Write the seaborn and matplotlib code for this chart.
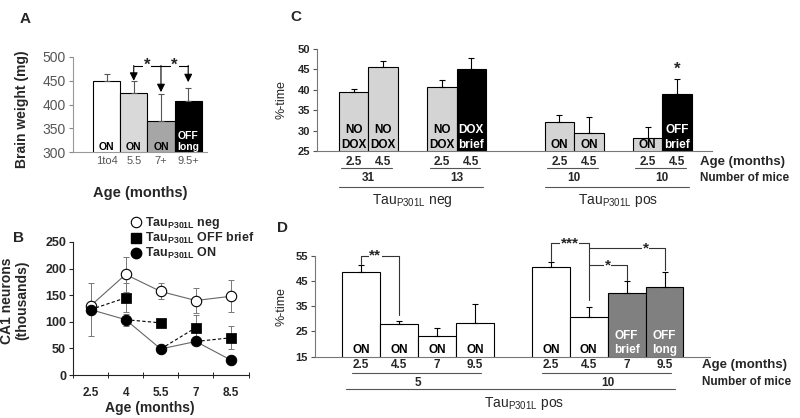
import numpy as np
import matplotlib
matplotlib.use('Agg')
import matplotlib.pyplot as plt
import matplotlib.transforms as mtransforms
from matplotlib.lines import Line2D
import seaborn as sns

sns.set_style('white')
plt.rcParams['font.family'] = ['Liberation Sans', 'DejaVu Sans']
plt.rcParams['mathtext.fontset'] = 'custom'
plt.rcParams['mathtext.rm'] = 'Liberation Sans'
plt.rcParams['mathtext.bf'] = 'Liberation Sans:bold'

# ---- data ----
# A: brain weight
a_groups = ['1to4', '5.5', '7+', '9.5+']
a_weight = [450, 425, 365, 407]
a_err = [14, 24, 57, 27]
a_text = ['ON', 'ON', 'ON', 'OFF\nlong']
a_arrow_tip = [450, 426, 447]

# B: CA1 neurons
b_age = ['2.5', '4', '5.5', '7', '8.5']
b_neg = [130, 189, 157, 140, 148]
b_neg_err = [8, 33, 15, 24, 30]
b_on = [123, 104, 49, 63, 28]
b_on_err = [49, 11, 3, 4, 3]
b_off = [np.nan, 145, 98, 89, 70]
b_off_err = [np.nan, 27, 4, 24, 22]

# C: %-time, short dox
c_age = ['2.5', '4.5', '2.5', '4.5', '2.5', '4.5', '2.5', '4.5']
c_time = [39.5, 45.7, 40.7, 45.2, 32.1, 29.3, 28.3, 38.9]
c_err = [0.8, 1.3, 1.6, 2.5, 1.7, 4.1, 2.5, 3.7]
c_text = ['NO\nDOX', 'NO\nDOX', 'NO\nDOX', 'DOX\nbrief', 'ON', 'ON', 'ON', 'OFF\nbrief']
c_mice = ['31', '13', '10', '10']
c_geno = ['neg', 'pos']

# D: %-time, long dox
d_age = ['2.5', '4.5', '7', '9.5', '2.5', '4.5', '7', '9.5']
d_time = [48.7, 28.0, 23.3, 28.4, 50.4, 30.8, 40.3, 42.5]
d_err = [2.6, 1.3, 2.9, 7.6, 2.2, 3.8, 4.7, 6.2]
d_text = ['ON', 'ON', 'ON', 'ON', 'ON', 'ON', 'OFF\nbrief', 'OFF\nlong']
d_mice = ['5', '10']

# ---- layout ----
W, H = 800, 418
fig = plt.figure(figsize=(8, 4.18), dpi=100)


def rect(l, t, r, b):
    return [l / W, 1 - b / H, (r - l) / W, (b - t) / H]


def fy(px):
    return 1 - px / H


def style_axes(ax, color):
    for s in ['top', 'right']:
        ax.spines[s].set_visible(False)
    for s in ['left', 'bottom']:
        ax.spines[s].set_color(color)
        ax.spines[s].set_linewidth(0.8)


def bar_text(ax, x, y, txt, size, ls=1.3):
    col = 'white' if txt in ('OFF\nlong', 'OFF\nbrief', 'DOX\nbrief') else 'black'
    ax.text(x, y, txt, ha='center', va='bottom', fontsize=size, fontweight='bold',
            color=col, linespacing=ls)


tau = r'Tau$_{\mathrm{P301L}}$ '
taub = r'Tau$_{\mathbf{P301L}}$ '

# ===== A =====
axA = fig.add_axes(rect(73, 57, 207, 152))
sns.barplot(x=a_groups, y=a_weight, width=1, color='white', edgecolor='black',
            linewidth=0.8, errorbar=None, ax=axA)
for p, c in zip(axA.patches, ['white', '#d9d9d9', '#a6a6a6', 'black']):
    p.set_facecolor(c)
ia = np.arange(len(a_groups))
axA.errorbar(ia, a_weight, yerr=[np.zeros(4), a_err], fmt='none', ecolor='#555555',
             elinewidth=0.8, capsize=2.5, capthick=0.8)
axA.set_ylim(300, 500)
axA.set_xlim(-1.23, 3.69)
axA.set_yticks([300, 350, 400, 450, 500])
axA.tick_params(axis='y', labelsize=10, labelcolor='#555555', length=3, color='#888888',
                left=True, pad=2)
axA.tick_params(axis='x', labelsize=8, labelcolor='#555555', length=0, pad=3)
style_axes(axA, '#999999')
for i, t in enumerate(a_text):
    bar_text(axA, i, 301, t, 7.5, 1.1)
axA.set_ylabel('Brain weight (mg)', fontsize=10, fontweight='bold')
axA.yaxis.set_label_coords(-0.33, 0.45)
axA.set_xlabel('Age (months)', fontsize=10.5, fontweight='bold')
axA.xaxis.set_label_coords(0.5, -0.36)
ytop = 482
axA.plot([1, 3], [ytop, ytop], color='black', lw=0.8, clip_on=False)
for i, tip in zip([1, 2, 3], a_arrow_tip):
    axA.annotate('', xy=(i, tip), xytext=(i, ytop),
                 arrowprops=dict(arrowstyle='-|>', color='black', lw=0.8,
                                 mutation_scale=12, shrinkA=0, shrinkB=0))
for xs in [1.48, 2.5]:
    axA.text(xs, ytop, '*', ha='center', va='center', fontsize=12, fontweight='bold',
             bbox=dict(facecolor='white', edgecolor='none', pad=0.5))
fig.text(20 / W, fy(23), 'A', fontsize=11, fontweight='bold')

# ===== B =====
axB = fig.add_axes(rect(73, 242, 248.5, 375))
ib = np.arange(len(b_age))
for vals, errs in [(b_neg, b_neg_err), (b_on, b_on_err), (b_off, b_off_err)]:
    axB.errorbar(ib, vals, yerr=errs, fmt='none', ecolor='#777777', elinewidth=0.7,
                 capsize=2.5, capthick=0.7, zorder=1)
for i in range(len(b_age) - 1):
    axB.plot([ib[i], ib[i + 1]], [b_on[i], b_off[i + 1]], ls='--', color='black', lw=0.8,
             dashes=(3, 2), zorder=2)
sns.lineplot(x=ib, y=b_neg, color='#666666', lw=0.8, marker='o', markersize=7.5,
             markerfacecolor='white', markeredgecolor='black', markeredgewidth=0.8,
             ax=axB, zorder=3)
sns.lineplot(x=ib, y=b_on, color='#666666', lw=0.8, marker='o', markersize=7.5,
             markerfacecolor='black', markeredgecolor='black', ax=axB, zorder=3)
sns.scatterplot(x=ib, y=b_off, marker='s', s=45, color='black', edgecolor='black',
                ax=axB, zorder=4)
axB.set_xlim(-0.5, 4.5)
axB.set_ylim(0, 250)
axB.set_yticks([0, 50, 100, 150, 200, 250])
axB.set_xticks(ib)
axB.set_xticklabels(b_age)
axB.set_xticks(np.arange(-0.5, 5, 1), minor=True)
axB.tick_params(axis='x', which='major', length=0, pad=9, labelsize=8.5)
axB.tick_params(axis='x', which='minor', length=4, direction='inout', bottom=True,
                color='black')
axB.tick_params(axis='y', length=3, left=True, labelsize=9, pad=2)
for lab in axB.get_xticklabels() + axB.get_yticklabels():
    lab.set_fontweight('bold')
style_axes(axB, '#222222')
axB.set_ylabel('CA1 neurons\n(thousands)', fontsize=10, fontweight='bold', linespacing=1.1)
axB.yaxis.set_label_coords(-0.25, 0.56)
axB.set_xlabel('Age (months)', fontsize=10, fontweight='bold', va='center')
axB.xaxis.set_label_coords(0.44, -0.245)
handles = [
    Line2D([], [], marker='o', ls='none', ms=7.5, mfc='white', mec='black', mew=0.8),
    Line2D([], [], marker='s', ls='none', ms=7, mfc='black', mec='black'),
    Line2D([], [], marker='o', ls='none', ms=7.5, mfc='black', mec='black'),
]
labels = [taub + 'neg', taub + 'OFF brief', taub + 'ON']
fig.legend(handles, labels, loc='upper left', bbox_to_anchor=(131 / W, fy(215)),
           frameon=False, prop=dict(weight='bold', size=9), handlelength=0.8,
           handletextpad=0.3, labelspacing=0.0, borderpad=0, borderaxespad=0)
fig.text(13 / W, fy(242), 'B', fontsize=11, fontweight='bold')


# ===== C & D shared helper =====
def below(ax, pos, ages, mice, groups, ys, ext):
    tr = mtransforms.blended_transform_factory(ax.transData, fig.transFigure)
    y_age, y_line, y_num = ys
    for p, a in zip(pos, ages):
        ax.text(p, fy(y_age), a, transform=tr, ha='center', va='center',
                fontsize=8.5, fontweight='bold')
    for (p0, p1), m in zip(groups, mice):
        ax.plot([p0 + ext[0], p1 + ext[1]], [fy(y_line)] * 2, color='#555555', lw=0.8,
                transform=tr, clip_on=False)
        ax.text((p0 + p1) / 2, fy(y_num), m, transform=tr, ha='center', va='center',
                fontsize=8.5, fontweight='bold')


# ===== C =====
c_pos = [0, 1, 3, 4, 7, 8, 10, 11]
axC = fig.add_axes(rect(317, 49, 712, 151))
sns.barplot(x=c_pos, y=c_time, native_scale=True, width=1, color='white',
            edgecolor='black', linewidth=0.8, errorbar=None, ax=axC)
c_cols = ['#d4d4d4', '#d4d4d4', '#d4d4d4', 'black', '#d4d4d4', '#d4d4d4', '#d4d4d4', 'black']
for p, c in zip(axC.patches, c_cols):
    p.set_facecolor(c)
axC.errorbar(c_pos, c_time, yerr=[np.zeros(8), c_err], fmt='none', ecolor='black',
             elinewidth=0.8, capsize=2.5, capthick=0.8)
axC.set_ylim(25, 50)
axC.set_xlim(-1.25, 12.19)
axC.set_xticks([])
axC.set_xlabel('')
axC.set_yticks([25, 30, 35, 40, 45, 50])
axC.tick_params(axis='y', length=3, left=True, labelsize=8, pad=2, color='#555555')
for lab in axC.get_yticklabels():
    lab.set_fontweight('bold')
style_axes(axC, '#777777')
axC.set_ylabel('%-time', fontsize=9)
axC.yaxis.set_label_coords(-0.075, 0.5)
for p, t in zip(c_pos, c_text):
    bar_text(axC, p, 25.05, t, 8.5)
axC.text(c_pos[7], 43.3, '*', ha='center', va='bottom', fontsize=12, fontweight='bold')
below(axC, c_pos, c_age, c_mice, [(0, 1), (3, 4), (7, 8), (10, 11)],
      (162, 168, 178), (-0.42, 0.3))
trC = mtransforms.blended_transform_factory(axC.transData, fig.transFigure)
for (p0, p1), g in zip([(0, 4), (7, 11)], c_geno):
    axC.plot([p0 - 0.5, p1 + 0.4], [fy(187)] * 2, color='#555555', lw=0.8,
             transform=trC, clip_on=False)
    axC.text((p0 + p1) / 2, fy(200), tau + g, transform=trC, ha='center', va='center',
             fontsize=10)
fig.text(700 / W, fy(162), 'Age (months)', fontsize=9.5, fontweight='bold', va='center')
fig.text(700 / W, fy(178), 'Number of mice', fontsize=8.5, fontweight='bold', va='center')
fig.text(290 / W, fy(21), 'C', fontsize=11, fontweight='bold')

# ===== D =====
d_pos = [0, 1, 2, 3, 5, 6, 7, 8]
axD = fig.add_axes(rect(315, 255.7, 710, 356.7))
sns.barplot(x=d_pos, y=d_time, native_scale=True, width=1, color='white',
            edgecolor='black', linewidth=0.8, errorbar=None, ax=axD)
d_cols = ['white'] * 6 + ['#808080', '#808080']
for p, c in zip(axD.patches, d_cols):
    p.set_facecolor(c)
axD.errorbar(d_pos, d_time, yerr=[np.zeros(8), d_err], fmt='none', ecolor='black',
             elinewidth=0.8, capsize=2.5, capthick=0.8)
axD.set_ylim(15, 55)
axD.set_xlim(-1.22, 9.2)
axD.set_xticks([])
axD.set_xlabel('')
axD.set_yticks([15, 25, 35, 45, 55])
axD.tick_params(axis='y', length=3, left=True, labelsize=8, pad=2, color='#555555')
for lab in axD.get_yticklabels():
    lab.set_fontweight('bold')
style_axes(axD, '#777777')
axD.set_ylabel('%-time', fontsize=9)
axD.yaxis.set_label_coords(-0.07, 0.5)
for p, t in zip(d_pos, d_text):
    bar_text(axD, p, 15.1, t, 8.5)


def bracket(ax, x0, y0, x1, y1, ytop, label, xl):
    ax.plot([x0, x0, x1, x1], [y0, ytop, ytop, y1], color='#333333', lw=0.8, clip_on=False)
    ax.text(xl, ytop, label, ha='center', va='center', fontsize=11, fontweight='bold',
            bbox=dict(facecolor='white', edgecolor='none', pad=0.3), clip_on=False)


bracket(axD, 0, 51.6, 1, 31.5, 55, '**', 0.37)
bracket(axD, 5, 53.0, 6, 37.5, 60, '***', 5.5)
bracket(axD, 6, 58, 8, 49.3, 58, '*', 7.5)
bracket(axD, 6, 51.3, 7, 45.4, 51.3, '*', 6.5)
below(axD, d_pos, d_age, d_mice, [(0, 3), (5, 8)], (365, 373, 383), (-0.24, 0.16))
trD = mtransforms.blended_transform_factory(axD.transData, fig.transFigure)
axD.plot([-0.4, 8.27], [fy(389)] * 2, color='#555555', lw=0.8, transform=trD, clip_on=False)
axD.text(4.3, fy(403), tau + 'pos', transform=trD, ha='center', va='center', fontsize=10)
fig.text(702 / W, fy(365), 'Age (months)', fontsize=9.5, fontweight='bold', va='center')
fig.text(702 / W, fy(382), 'Number of mice', fontsize=8.5, fontweight='bold', va='center')
fig.text(277 / W, fy(232), 'D', fontsize=11, fontweight='bold')

fig.savefig('out.png', dpi=100)
